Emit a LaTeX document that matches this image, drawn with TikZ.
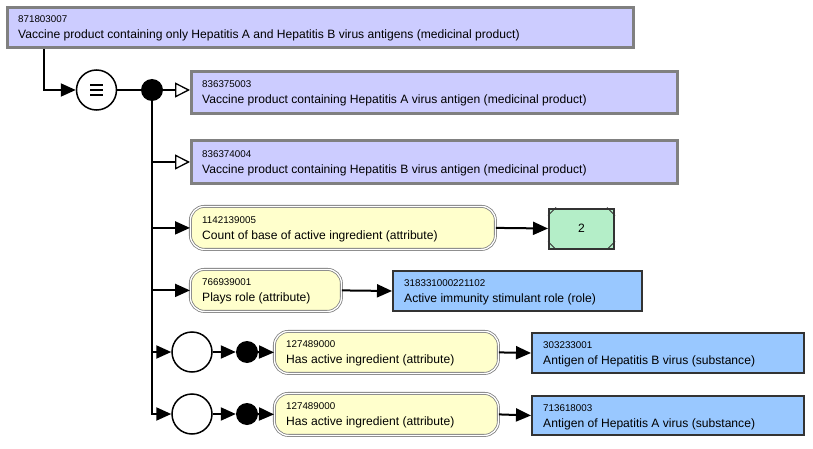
\documentclass[tikz,border=0pt]{standalone}
\usepackage{fontspec}
\setmainfont{Liberation Sans}
\usetikzlibrary{arrows.meta}
\definecolor{purp}{HTML}{CCCCFF}
\definecolor{yell}{HTML}{FFFFCC}
\definecolor{blu}{HTML}{99C8FF}
\definecolor{grn}{HTML}{B4EEC8}
\definecolor{bord}{HTML}{808080}
\definecolor{dk}{HTML}{333333}
\tikzset{
  purpbox/.style={draw=bord, line width=3pt, fill=purp, inner sep=0pt},
  yellbox/.style={draw=bord, double=white, double distance=1.3pt, line width=0.8pt, fill=yell, rounded corners=14pt, inner sep=0pt},
  blubox/.style={draw=dk, line width=2pt, fill=blu, inner sep=0pt},
  grnbox/.style={draw=dk, line width=2pt, fill=grn, inner sep=0pt},
  idtext/.style={font=\fontsize{9.8}{11}\selectfont, inner sep=0pt},
  maintext/.style={font=\fontsize{12.1}{14}\selectfont, inner sep=0pt},
  conn/.style={line width=2pt, black},
  farr/.style={conn, -{Triangle[length=15pt,width=13pt]}},
  oarr/.style={conn, -{Triangle[open,length=15pt,width=15pt,fill=white,line width=1.3pt]}},
  ring/.style={circle, draw, line width=1.5pt, fill=white, minimum size=40pt, inner sep=0pt},
  blob/.style={circle, fill=black, minimum size=22pt, inner sep=0pt},
}
\newcommand\cbox[8]{%
  \node[#2, minimum width=#5pt-#3pt, minimum height=#6pt-#4pt, anchor=north west] (#1) at (#3,#4) {};
  \node[idtext, anchor=base west] (#1-id) at ([xshift=12pt,yshift=4.5pt]#1.west) {#7};
  \node[maintext, anchor=base west] (#1-t) at ([xshift=12pt,yshift=-11.5pt]#1.west) {#8};
}
\begin{document}
\begin{tikzpicture}[x=1pt,y=-1pt]
\useasboundingbox (0,0) rectangle (813,449);
\cbox{top}{purpbox}{6}{6}{632}{46}{871803007}{Vaccine product containing only Hepatitis A and Hepatitis B virus antigens (medicinal product)}
\cbox{b2}{purpbox}{190}{70}{676}{112}{836375003}{Vaccine product containing Hepatitis A virus antigen (medicinal product)}
\cbox{b3}{purpbox}{190}{139}{676}{182}{836374004}{Vaccine product containing Hepatitis B virus antigen (medicinal product)}
\cbox{y1}{yellbox}{190}{206}{495}{249}{1142139005}{Count of base of active ingredient (attribute)}
\node[grnbox, minimum width=65pt, minimum height=40pt, anchor=north west, font=\fontsize{12.1}{14}\selectfont] (g) at (548,207.5) {2};
\cbox{y2}{yellbox}{190}{269}{341}{311}{766939001}{Plays role (attribute)}
\cbox{r2}{blubox}{392}{270}{641}{310}{318331000221102}{Active immunity stimulant role (role)}
\cbox{y3}{yellbox}{274}{331}{498}{373}{127489000}{Has active ingredient (attribute)}
\cbox{s1}{blubox}{531}{332}{803}{372}{303233001}{Antigen of Hepatitis B virus (substance)}
\cbox{y4}{yellbox}{274}{393}{498}{435}{127489000}{Has active ingredient (attribute)}
\cbox{s2}{blubox}{531}{395}{803}{434}{713618003}{Antigen of Hepatitis A virus (substance)}
% green corners
\draw[dk, line width=1pt] ([yshift=-8pt]g.north west) -- ([xshift=8pt]g.north west);
\draw[dk, line width=1pt] ([yshift=-8pt]g.north east) -- ([xshift=-8pt]g.north east);
\draw[dk, line width=1pt] ([yshift=8pt]g.south west) -- ([xshift=8pt]g.south west);
\draw[dk, line width=1pt] ([yshift=8pt]g.south east) -- ([xshift=-8pt]g.south east);
% operators
\node[ring] (eq) at (96.5,90) {};
\draw[line width=1.8pt] ([xshift=-6.5pt,yshift=5pt]eq.center) -- ([xshift=6.5pt,yshift=5pt]eq.center)
  ([xshift=-6.5pt]eq.center) -- ([xshift=6.5pt]eq.center)
  ([xshift=-6.5pt,yshift=-5pt]eq.center) -- ([xshift=6.5pt,yshift=-5pt]eq.center);
\node[blob] (d0) at (152,90) {};
\node[ring] (c1) at (192,352) {};
\node[blob] (d1) at (247,352) {};
\node[ring] (c2) at (192,414) {};
\node[blob] (d2) at (247,414) {};
% connectors
\draw[farr] ([xshift=38pt]top.south west) |- (eq.west);
\draw[conn] (eq.east) -- (d0.west);
\draw[oarr] (d0.east) -- (d0.east -| b2.west);
\draw[farr] (d0.center) |- (c2.west);
\draw[oarr] (d0.center |- b3.west) -- (b3.west);
\draw[farr] (d0.center |- y1.west) -- (y1.west);
\draw[farr] (d0.center |- y2.west) -- (y2.west);
\draw[farr] (d0.center |- c1.west) -- (c1.west);
\draw[farr] (y1.east) -- (g.west);
\draw[farr] (y2.east) -- (r2.west);
\draw[farr] (c1.east) -- (d1.west);
\draw[farr] (d1.east) -- (y3.west);
\draw[farr] (y3.east) -- (s1.west);
\draw[farr] (c2.east) -- (d2.west);
\draw[farr] (d2.east) -- (y4.west);
\draw[farr] (y4.east) -- (s2.west);
\end{tikzpicture}
\end{document}
